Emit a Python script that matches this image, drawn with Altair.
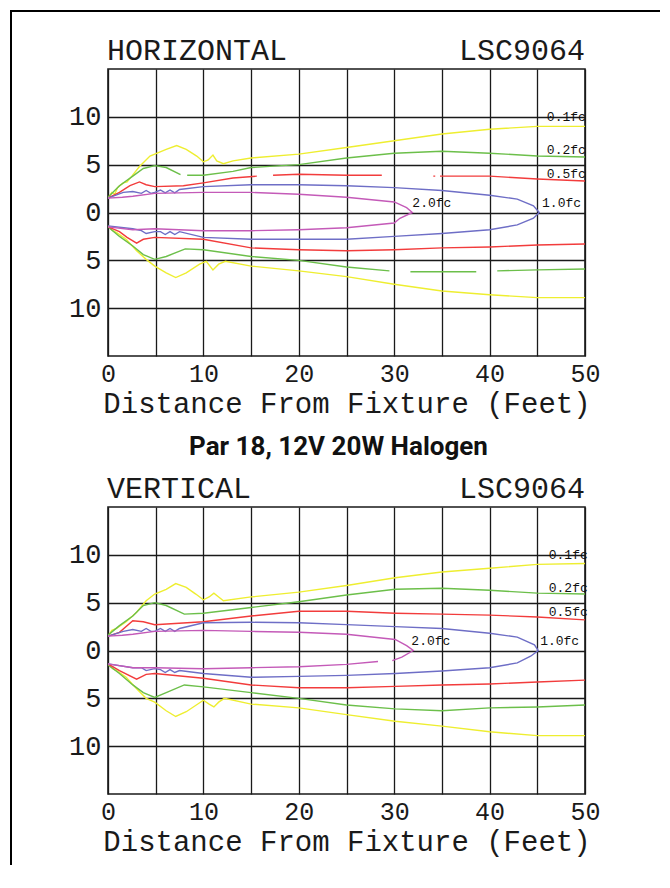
import altair as alt
import pandas as pd

# ---------------- data (feet) ----------------
LEVELS = ["0.1fc", "0.2fc", "0.5fc", "1.0fc", "2.0fc"]
COLORS = ["#eeee30", "#6cbf4a", "#f23c3c", "#6e6ec6", "#c45ab8"]
X_TICKS = [0, 5, 10, 15, 20, 25, 30, 35, 40, 45, 50]
Y_TICKS = [-10, -5, 0, 5, 10]

# HORIZONTAL panel
H_YELLOW_UP = [(0, 1.5), (0.4, 2.1), (0.7, 1.9), (1.0, 2.6), (1.6, 3.1), (2.0, 3.2), (2.5, 3.8), (3.3, 4.8),
               (4.4, 5.9), (4.9, 6.1), (6.1, 6.6), (7.2, 7.0), (8.2, 6.6), (9.3, 5.9), (10.0, 5.3),
               (10.5, 5.5), (11.0, 6.0), (11.4, 5.4), (12.1, 5.1), (13.1, 5.4), (15, 5.7), (20, 6.1),
               (25, 6.8), (30, 7.5), (35, 8.2), (40, 8.7), (45, 9.0), (50, 9.0)]
H_YELLOW_LO = [(0, -1.4), (0.5, -1.9), (0.9, -2.1), (1.9, -2.8), (3.0, -4.0), (4.0, -4.9), (4.9, -5.6),
               (6.1, -6.3), (7.1, -6.8), (8.2, -6.3), (9.6, -5.4), (10.3, -5.1), (11.0, -6.0),
               (11.6, -5.4), (12.3, -5.1), (15, -5.6), (20, -6.1), (25, -6.7), (30, -7.5), (35, -8.2),
               (40, -8.6), (45, -8.9), (50, -8.9)]
H_GREEN_UP = [(0, 1.6), (0.6, 2.2), (1.2, 2.8), (2.6, 3.8), (3.7, 4.6), (4.9, 4.9), (6.1, 4.7),
              (7.6, 3.95), (7.9, None), (8.3, 3.9), (10, 3.9), (13.1, 4.3), (15, 4.7), (18.2, 4.9),
              (20, 5.0), (25, 5.7), (30, 6.2), (35, 6.4), (40, 6.2), (45, 5.9), (50, 5.8)]
H_GREEN_LO = [(0, -1.5), (1.2, -2.5), (2.6, -3.5), (3.7, -4.4), (4.9, -4.9), (6.1, -4.6), (8.1, -3.8),
              (10, -3.9), (15, -4.6), (20, -5.0), (25, -5.7), (29.5, -6.1), (30.5, None), (31.7, -6.2),
              (35, -6.2), (38.6, -6.2), (39.5, None), (40.8, -6.1), (45, -6.0), (50, -5.9)]
H_RED_UP = [(0, 1.5), (1.2, 2.1), (2.3, 2.8), (3.3, 3.2), (4.0, 2.9), (4.9, 2.7), (7.9, 2.8), (10, 3.1),
            (13.1, 3.6), (15.6, 3.8), (16.4, None), (17.3, 3.9), (20, 4.0), (25, 3.9), (28.7, 3.9),
            (31, None), (34.1, 3.8), (34.3, 3.8), (34.5, None), (34.8, 3.8), (40, 3.8), (45, 3.5),
            (50, 3.3)]
H_RED_LO = [(0, -1.5), (1.2, -2.0), (2.0, -2.6), (3.0, -3.2), (3.7, -2.8), (4.9, -2.6), (10, -2.8),
            (15, -3.7), (20, -3.9), (25, -4.0), (30, -3.9), (35, -3.7), (40, -3.6), (45, -3.4),
            (50, -3.3)]
H_BLUE = [(0, 1.5), (1.6, 2.1), (2.6, 2.2), (3.5, 2.0), (4.0, 2.3), (4.5, 2.0), (4.9, 2.1), (5.5, 2.35),
          (6.0, 2.05), (6.5, 2.35), (7.0, 2.05), (7.5, 2.4), (10, 2.7), (15, 2.9), (20, 2.9), (25, 2.8),
          (30, 2.6), (35, 2.3), (40, 1.8), (42.9, 1.4), (44.6, 0.7), (45.2, 0.0), (44.6, -0.6),
          (42.9, -1.3), (40, -1.8), (35, -2.2), (30, -2.5), (25, -2.8), (20, -2.8), (15, -2.8),
          (10, -2.6), (7.5, -2.0), (7.0, -2.3), (6.5, -2.0), (6.0, -2.3), (5.5, -2.0), (4.9, -2.0),
          (4.0, -2.2), (3.5, -1.9), (2.6, -1.7), (0, -1.4)]
H_MAGENTA = [(0, 1.5), (1.5, 1.6), (2.6, 1.7), (4.9, 2.0), (10, 2.1), (15, 2.1), (20, 1.9), (25, 1.6),
             (30, 1.1), (31.3, 0.5), (31.9, 0.0), (30.6, -0.6), (30, -1.1), (25, -1.6), (20, -1.8),
             (15, -1.9), (10, -1.9), (4.9, -1.7), (2.6, -1.8), (0, -1.5)]
H_LABEL_X = [46.0, 46.0, 46.0, 45.5, 31.9]
H_LABEL_Y = [10.0, 6.5, 4.0, 1.0, 1.0]

# VERTICAL panel
V_YELLOW_UP = [(0, 1.5), (0.4, 2.1), (0.9, 2.3), (1.3, 2.6), (1.9, 3.0), (3.0, 4.0), (4.0, 5.2),
               (4.9, 5.9), (6.1, 6.4), (7.1, 7.0), (8.2, 6.6), (9.2, 5.9), (10.0, 5.3), (10.6, 5.6),
               (11.1, 6.0), (11.6, 5.6), (12.1, 5.2), (15, 5.6), (20, 6.1), (25, 6.8), (30.1, 7.6),
               (35, 8.2), (40, 8.6), (45, 9.0), (50, 9.1)]
V_YELLOW_LO = [(0, -1.4), (0.5, -1.9), (0.9, -2.1), (1.9, -2.8), (3.0, -4.0), (4.0, -5.0), (4.9, -5.4),
               (6.1, -6.3), (7.1, -6.9), (8.2, -6.4), (10, -5.2), (10.6, -5.6), (11.1, -5.9),
               (11.6, -5.4), (12.2, -5.0), (15, -5.6), (20, -6.0), (25, -6.7), (30.1, -7.4),
               (35, -7.9), (40, -8.5), (45, -8.9), (50, -8.9)]
V_GREEN_UP = [(0, 1.6), (0.6, 2.1), (1.2, 2.6), (2.6, 3.6), (3.7, 4.7), (4.9, 5.0), (6.1, 4.7),
              (8.0, 3.8), (10, 3.9), (15, 4.5), (20, 5.1), (25, 5.8), (30.1, 6.4), (35, 6.5),
              (40, 6.3), (45, 6.0), (50, 5.9)]
V_GREEN_LO = [(0, -1.5), (1.2, -2.4), (2.6, -3.6), (3.7, -4.4), (4.9, -4.9), (6.1, -4.4), (8.0, -3.6),
              (10, -3.8), (15, -4.4), (20, -5.0), (25, -5.7), (30.1, -6.1), (35, -6.3), (40, -6.0),
              (45, -5.9), (50, -5.7)]
V_RED_UP = [(0, 1.5), (1.2, 1.9), (2.6, 3.1), (3.7, 3.0), (4.9, 2.7), (10, 3.0), (15, 3.6), (20, 4.1),
            (25, 4.1), (30.1, 3.9), (35, 3.8), (40, 3.7), (45, 3.5), (50, 3.2)]
V_RED_LO = [(0, -1.4), (1.2, -2.1), (3.0, -3.0), (4.0, -2.5), (4.9, -2.4), (10, -2.9), (15, -3.6),
            (20, -3.9), (25, -3.9), (30.1, -3.75), (35, -3.6), (40, -3.5), (45, -3.3), (50, -3.1)]
V_BLUE = [(0, 1.5), (1.6, 2.0), (2.6, 2.2), (3.5, 2.0), (4.0, 2.3), (4.5, 2.0), (4.9, 2.0), (5.5, 2.3),
          (6.0, 2.0), (6.5, 2.3), (7.0, 2.0), (7.5, 2.3), (10, 2.9), (15, 2.95), (20, 2.9), (25, 2.7),
          (30.1, 2.5), (35, 2.3), (40, 1.8), (42.9, 1.4), (44.7, 0.6), (45.1, 0.0), (44.3, -0.6),
          (42.9, -1.3), (40, -1.8), (35, -2.15), (30.1, -2.4), (25, -2.6), (20, -2.7), (15, -2.8),
          (10, -2.4), (7.5, -2.1), (7.0, -2.3), (6.5, -2.0), (6.0, -2.3), (5.5, -2.0), (4.9, -1.9),
          (4.0, -2.1), (3.5, -1.8), (2.6, -1.8), (0, -1.4)]
V_MAGENTA = [(0, 1.5), (1.5, 1.6), (2.6, 1.7), (4.9, 2.0), (10, 2.1), (15, 2.0), (20, 1.9), (25, 1.7),
             (30.1, 1.15), (31.3, 0.5), (32.0, 0.0), (30.8, -0.7), (29.8, -1.05), (29.4, None),
             (28.3, -1.15), (25, -1.45), (20, -1.7), (15, -1.8), (10, -1.9), (4.9, -1.8), (2.6, -1.8),
             (0, -1.4)]
V_LABEL_X = [46.2, 46.2, 46.2, 45.3, 31.8]
V_LABEL_Y = [10.0, 6.5, 4.0, 1.0, 1.0]

# ---------------- chart ----------------
W, H = 477, 287
MONO = "Liberation Mono"


def curves_df(curves):
    rows = []
    for level, part, pts in curves:
        for i, (x, y) in enumerate(pts):
            rows.append({"level": level, "part": part, "i": i, "x": x, "y": y})
    return pd.DataFrame(rows)


def panel(name, curves, lab_x, lab_y, extra=()):
    df = curves_df(curves)
    xenc = alt.X("x:Q", scale=alt.Scale(domain=[0, 50], nice=False),
                 axis=alt.Axis(values=X_TICKS,
                               labelExpr="datum.value % 10 == 0 ? datum.label : ''",
                               grid=True, ticks=False, domain=False, labelFlush=False,
                               labelOverlap=False, labelFont=MONO, labelFontSize=25,
                               labelPadding=5, labelColor="#1a1a1a",
                               title="Distance From Fixture (Feet)", titleFont=MONO,
                               titleFontSize=29, titleFontWeight="normal", titleColor="#1a1a1a",
                               titlePadding=3))
    yenc = alt.Y("y:Q", scale=alt.Scale(domain=[-15, 15], nice=False),
                 axis=alt.Axis(values=Y_TICKS, labelExpr="'' + abs(datum.value)",
                               grid=True, ticks=False, domain=False, labelFlush=False,
                               labelOverlap=False, labelFont=MONO, labelFontSize=27,
                               labelPadding=7, labelColor="#1a1a1a", title=None))
    lines = alt.Chart(df).mark_line(strokeWidth=1.4, clip=True).encode(
        x=xenc, y=yenc,
        color=alt.Color("level:N", scale=alt.Scale(domain=LEVELS, range=COLORS), legend=None),
        detail="part:N",
        order="i:Q",
    )
    ldf = pd.DataFrame({"label": LEVELS, "x": lab_x, "y": lab_y})
    labels = alt.Chart(ldf).mark_text(align="left", baseline="middle", font=MONO, fontSize=13,
                                      color="#111").encode(x="x:Q", y="y:Q", text="label:N")
    one = pd.DataFrame({"a": [0]})
    ttl = alt.Chart(one).mark_text(align="left", baseline="alphabetic", font=MONO, fontSize=30,
                                   color="#1a1a1a").encode(x=alt.value(-1), y=alt.value(-9),
                                                           text=alt.value(name))
    code = alt.Chart(one).mark_text(align="right", baseline="alphabetic", font=MONO, fontSize=30,
                                    color="#1a1a1a").encode(x=alt.value(W), y=alt.value(-9),
                                                            text=alt.value("LSC9064"))
    return alt.layer(lines, labels, ttl, code, *extra).properties(width=W, height=H)


one = pd.DataFrame({"a": [0]})
left_border = alt.Chart(one).mark_rule(color="#000", strokeWidth=2).encode(
    x=alt.value(-97), y=alt.value(-59), y2=alt.value(796))
top_border = alt.Chart(one).mark_rule(color="#000", strokeWidth=2).encode(
    x=alt.value(-98), x2=alt.value(552), y=alt.value(-58))
subtitle = alt.Chart(one).mark_text(align="center", baseline="alphabetic",
                                    font="Roboto", fontWeight="bold",
                                    fontSize=26, color="#111").encode(
    x=alt.value(W / 2 - 8), y=alt.value(386), text=alt.value("Par 18, 12V 20W Halogen"))

H_CURVES = [("0.1fc", "yu", H_YELLOW_UP), ("0.1fc", "yl", H_YELLOW_LO),
            ("0.2fc", "gu", H_GREEN_UP), ("0.2fc", "gl", H_GREEN_LO),
            ("0.5fc", "ru", H_RED_UP), ("0.5fc", "rl", H_RED_LO),
            ("1.0fc", "b", H_BLUE), ("2.0fc", "m", H_MAGENTA)]
V_CURVES = [("0.1fc", "yu", V_YELLOW_UP), ("0.1fc", "yl", V_YELLOW_LO),
            ("0.2fc", "gu", V_GREEN_UP), ("0.2fc", "gl", V_GREEN_LO),
            ("0.5fc", "ru", V_RED_UP), ("0.5fc", "rl", V_RED_LO),
            ("1.0fc", "b", V_BLUE), ("2.0fc", "m", V_MAGENTA)]

p1 = panel("HORIZONTAL", H_CURVES, H_LABEL_X, H_LABEL_Y, (left_border, top_border, subtitle))
p2 = panel("VERTICAL", V_CURVES, V_LABEL_X, V_LABEL_Y)

chart = alt.vconcat(p1, p2, spacing=151, bounds="flush").properties(
    padding=0, background="white"
).configure_view(stroke="#1a1a1a", strokeWidth=1.6).configure_axis(
    gridColor="#1a1a1a", gridWidth=1.3, gridOpacity=1
)

chart.save("out.html", embed_options={"renderer": "svg", "actions": False})
